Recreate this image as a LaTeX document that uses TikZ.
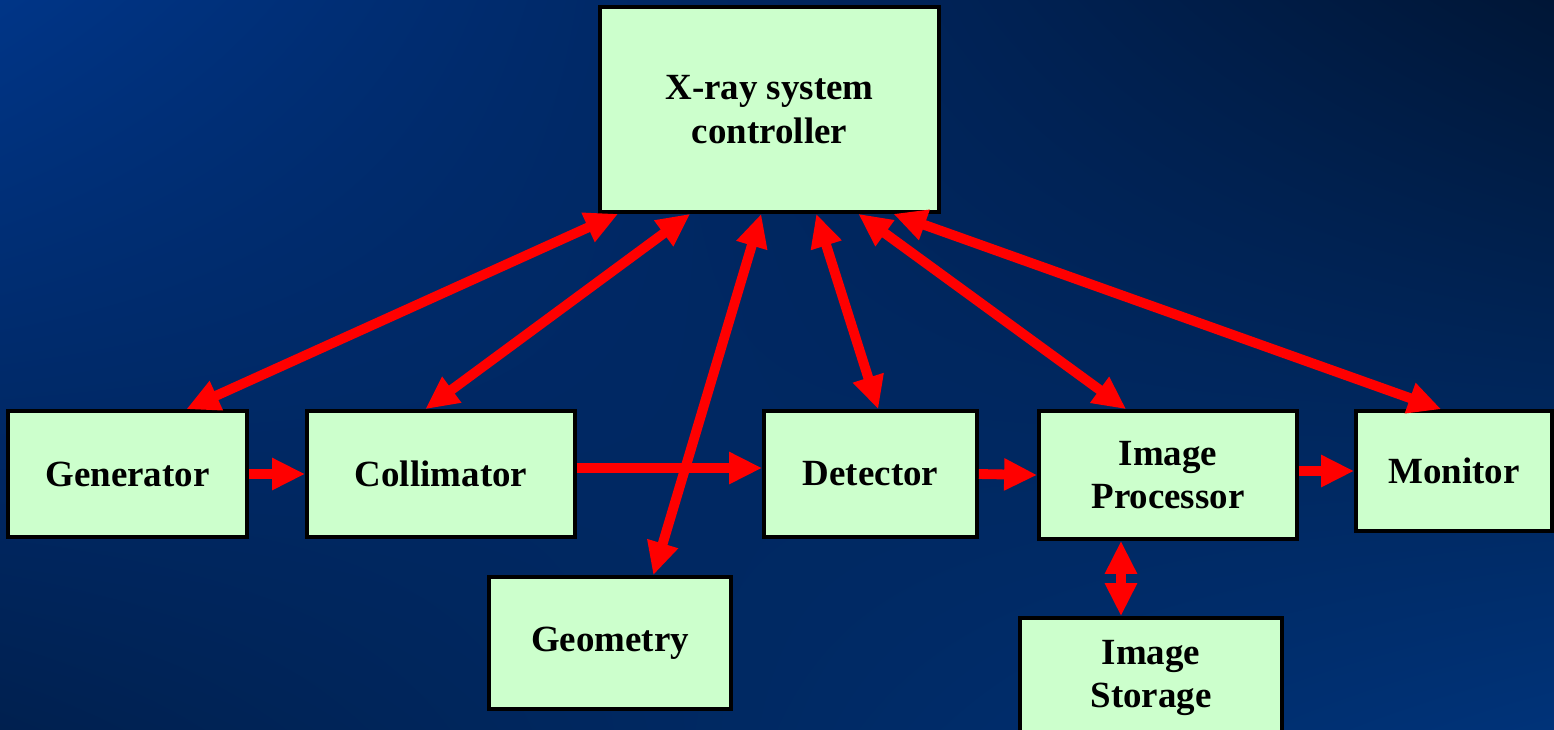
\documentclass[tikz,border=0pt]{standalone}
\usepackage{fontspec}
\setmainfont{Liberation Serif}
\usetikzlibrary{arrows.meta,shadings}
\definecolor{boxgreen}{HTML}{CCFFCC}
\definecolor{bgUL}{HTML}{003587}
\definecolor{bgUR}{HTML}{001636}
\definecolor{bgLL}{HTML}{00204F}
\definecolor{bgLR}{HTML}{003379}
\tikzset{
  unit/.style={draw=black, line width=1pt, fill=boxgreen, inner sep=0pt,
    align=center, font=\fontsize{10.5}{12.3}\selectfont\bfseries},
  link/.style={draw=red, line width=2.8pt,
    -{Triangle[length=0.33cm, width=0.30cm]}},
  duplex/.style={draw=red, line width=2.8pt,
    {Triangle[length=0.33cm, width=0.30cm]}-{Triangle[length=0.33cm, width=0.30cm]}}
}
\begin{document}
\begin{tikzpicture}[x=0.01cm, y=-0.01cm]
  % background
  \useasboundingbox (0,0) rectangle (1554,729);
  \clip (0,0) rectangle (1554,729);
  \shade[upper left=bgUL, upper right=bgUR, lower left=bgLL, lower right=bgLR]
    (0,0) rectangle (1554,729);

  % blocks
  \node[unit, minimum width=3.39cm, minimum height=2.05cm] (ctrl) at (769.5,109.5) {X-ray system\\controller};
  \node[unit, minimum width=2.39cm, minimum height=1.26cm] (gen) at (127.5,474) {Generator};
  \node[unit, minimum width=2.68cm, minimum height=1.26cm] (coll) at (441,474) {Collimator};
  \node[unit, minimum width=2.13cm, minimum height=1.26cm] (det) at (870.5,474) {Detector};
  \node[unit, minimum width=2.58cm, minimum height=1.28cm] (proc) at (1168,475) {Image\\Processor};
  \node[unit, minimum width=1.96cm, minimum height=1.20cm] (mon) at (1454,471) {Monitor};
  \node[unit, minimum width=2.42cm, minimum height=1.32cm] (geo) at (610,643) {Geometry};
  \node[unit, minimum width=2.62cm, minimum height=1.20cm] (stor) at (1151,678) {Image\\Storage};

  % controller links
  \draw[duplex] ([xshift=1.80cm]gen.north west) -- ([xshift=0.20cm]ctrl.south west);
  \draw[duplex] ([xshift=1.20cm]coll.north west) -- ([xshift=0.92cm]ctrl.south west);
  \draw[duplex] ([xshift=1.66cm]geo.north west) -- ([xshift=1.63cm]ctrl.south west);
  \draw[duplex] ([xshift=1.16cm]det.north west) -- ([xshift=2.18cm]ctrl.south west);
  \draw[duplex] ([xshift=0.89cm]proc.north west) -- ([xshift=2.60cm]ctrl.south west);
  \draw[duplex] ([xshift=0.87cm]mon.north west) -- ([xshift=2.95cm]ctrl.south west);

  % imaging chain
  \draw[link] (gen.east) -- (coll.west);
  \draw[link] ([yshift=0.06cm]coll.east) -- ([yshift=0.06cm]det.west);
  \draw[link] (det.east) -- (proc.west);
  \draw[link] (proc.east |- mon.west) -- (mon.west);
  \draw[duplex] ([xshift=-0.47cm]proc.south) -- ([xshift=-0.30cm]stor.north);
\end{tikzpicture}
\end{document}
